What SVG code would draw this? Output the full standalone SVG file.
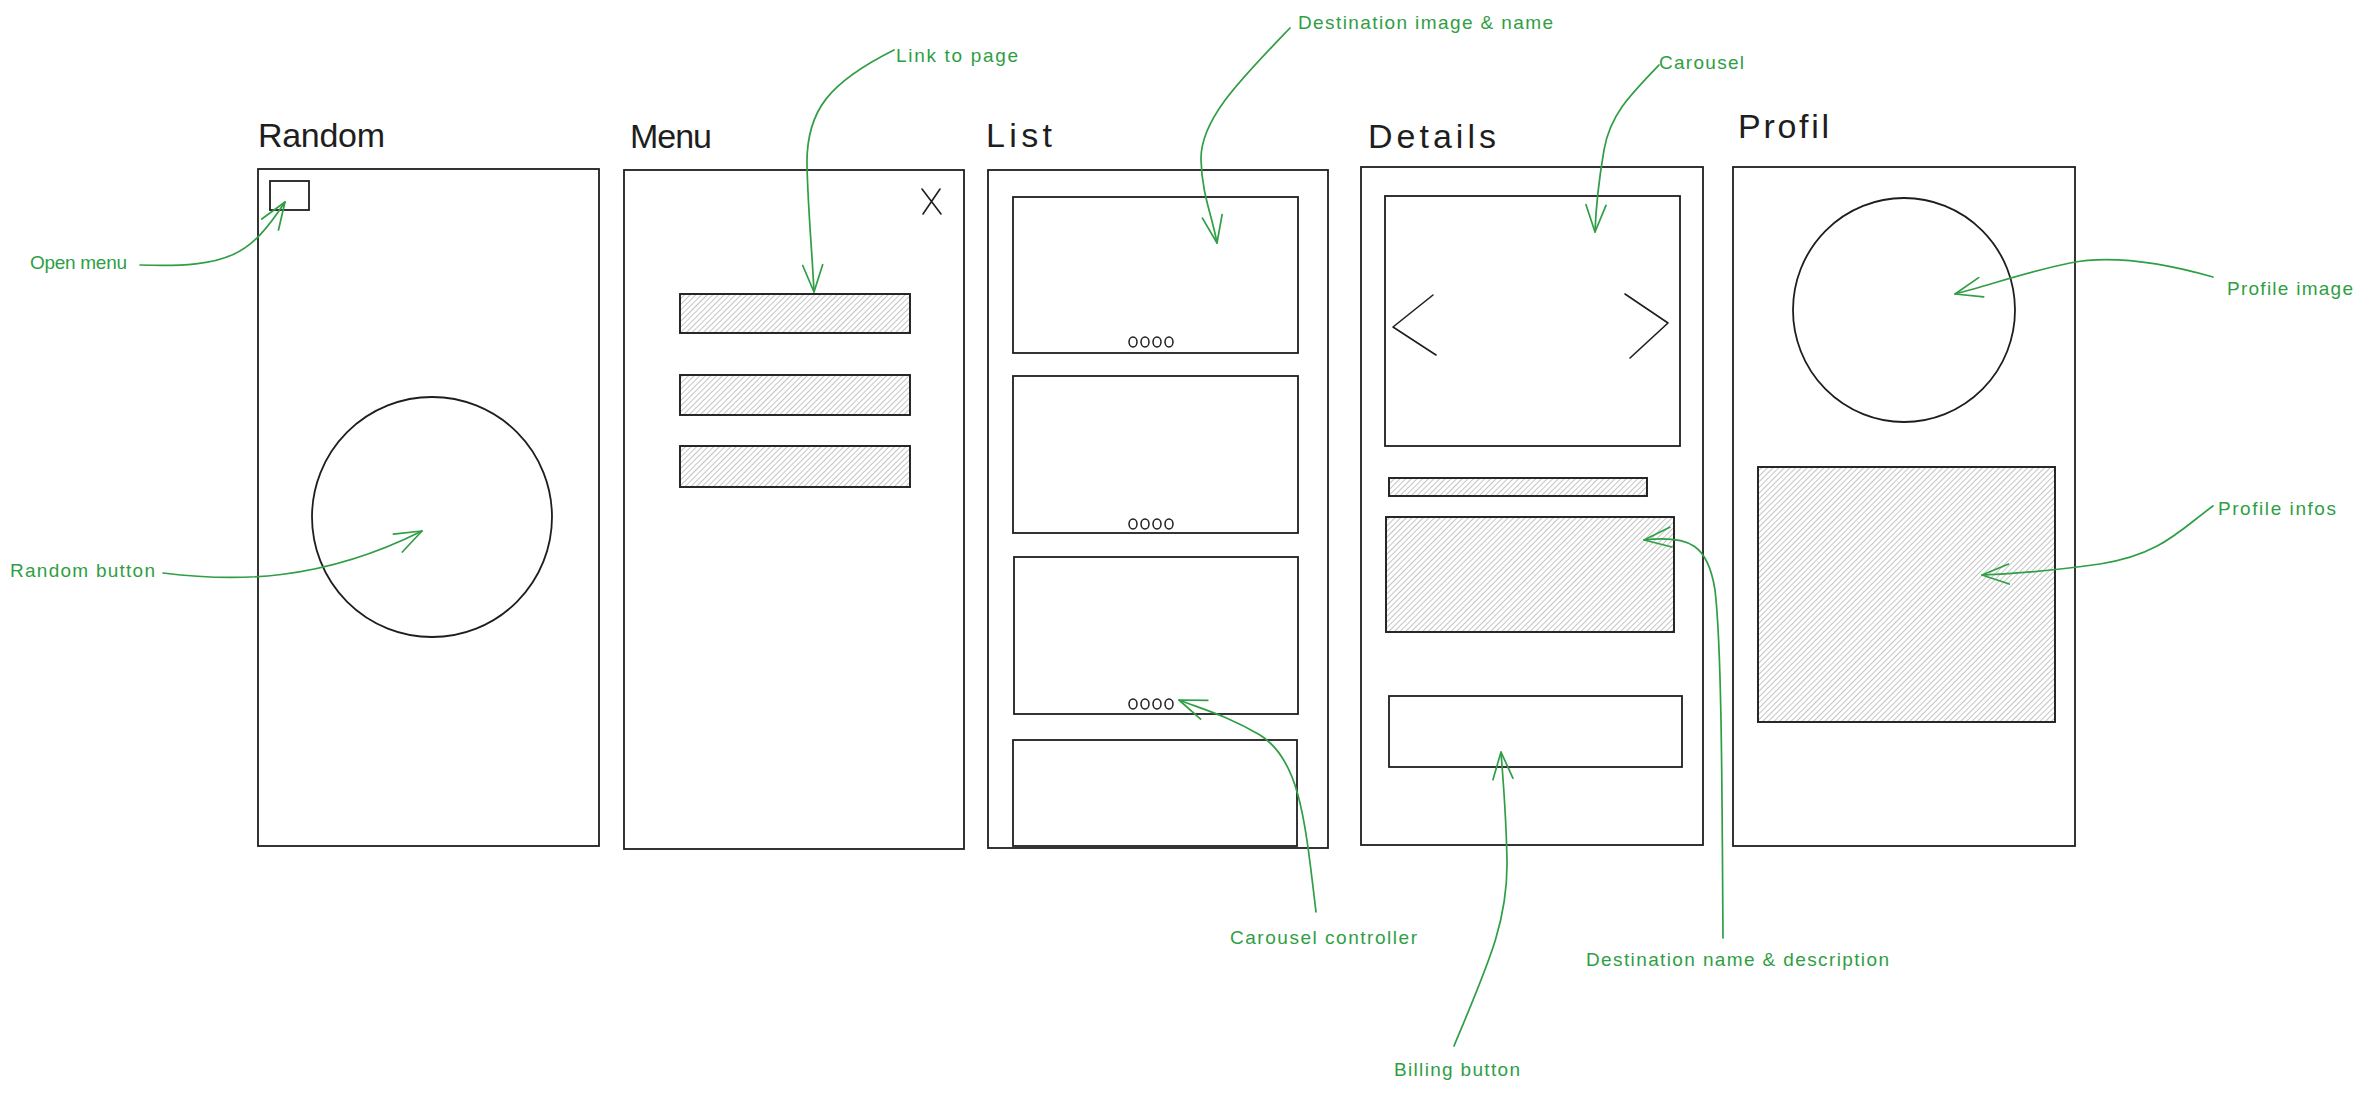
<svg xmlns="http://www.w3.org/2000/svg" width="2364" height="1094" viewBox="0 0 2364 1094">
<style>
.frame{fill:none;stroke:#1e1e1e;stroke-width:1.8}
.box{fill:none;stroke:#1e1e1e;stroke-width:1.8}
.hatch{fill:url(#hatch);stroke:#1e1e1e;stroke-width:1.9}
.line{fill:none;stroke:#1e1e1e;stroke-width:1.6;stroke-linecap:round;stroke-linejoin:round}
.dot{fill:none;stroke:#1e1e1e;stroke-width:1.5}
.title{font-family:"Liberation Sans",Arial,sans-serif;font-size:34px;fill:#1e1e1e}
.note{font-family:"Liberation Sans",Arial,sans-serif;font-size:19px;fill:#2f9e44}
.conn{fill:none;stroke:#2f9e44;stroke-width:1.7;stroke-linecap:round;marker-end:url(#head)}
</style>
<defs>
<pattern id="hatch" width="4" height="4" patternUnits="userSpaceOnUse" patternTransform="rotate(45)">
<rect width="4" height="4" fill="#ffffff"/>
<line x1="0" y1="0" x2="0" y2="4" stroke="#9c9c9c" stroke-width="1.2"/>
</pattern>
<marker id="head" markerUnits="userSpaceOnUse" markerWidth="34" markerHeight="30" viewBox="-30 -15 34 30" refX="0" refY="0" orient="auto" overflow="visible">
<path d="M-27,-10 L0,0 L-27,10" fill="none" stroke="#2f9e44" stroke-width="1.7" stroke-linecap="round" stroke-linejoin="round"/>
</marker>
</defs>
<rect width="2364" height="1094" fill="#ffffff"/>

<g id="random">
<text class="title" x="258" y="147" textLength="127">Random</text>
<rect class="frame" x="258" y="169" width="341" height="677"/>
<rect id="open-menu-btn" class="box" x="270" y="181" width="39" height="29"/>
<circle id="random-btn" class="box" cx="432" cy="517" r="120"/>
</g>

<g id="menu">
<text class="title" x="630" y="148" textLength="82">Menu</text>
<rect class="frame" x="624" y="170" width="340" height="679"/>
<path class="line" d="M922,189 L941,214 M940,189 L923,214"/>
<rect class="hatch" x="680" y="294" width="230" height="39"/>
<rect class="hatch" x="680" y="375" width="230" height="40"/>
<rect class="hatch" x="680" y="446" width="230" height="41"/>
</g>

<g id="list">
<text class="title" x="986" y="147" textLength="66">List</text>
<rect class="frame" x="988" y="170" width="340" height="678"/>
<rect class="box" x="1013" y="197" width="285" height="156"/>
<g class="dots">
<ellipse class="dot" cx="1133" cy="342" rx="4" ry="5"/><ellipse class="dot" cx="1145" cy="342" rx="4" ry="5"/><ellipse class="dot" cx="1157" cy="342" rx="4" ry="5"/><ellipse class="dot" cx="1169" cy="342" rx="4" ry="5"/>
</g>
<rect class="box" x="1013" y="376" width="285" height="157"/>
<g class="dots">
<ellipse class="dot" cx="1133" cy="524" rx="4" ry="5"/><ellipse class="dot" cx="1145" cy="524" rx="4" ry="5"/><ellipse class="dot" cx="1157" cy="524" rx="4" ry="5"/><ellipse class="dot" cx="1169" cy="524" rx="4" ry="5"/>
</g>
<rect class="box" x="1014" y="557" width="284" height="157"/>
<g class="dots">
<ellipse class="dot" cx="1133" cy="704" rx="4" ry="5"/><ellipse class="dot" cx="1145" cy="704" rx="4" ry="5"/><ellipse class="dot" cx="1157" cy="704" rx="4" ry="5"/><ellipse class="dot" cx="1169" cy="704" rx="4" ry="5"/>
</g>
<rect class="box" x="1013" y="740" width="284" height="106"/>
</g>

<g id="details">
<text class="title" x="1368" y="148" textLength="128">Details</text>
<rect class="frame" x="1361" y="167" width="342" height="678"/>
<rect class="box" x="1385" y="196" width="295" height="250"/>
<path class="line" d="M1433,295 L1393,327 L1436,355"/>
<path class="line" d="M1625,294 L1668,323 L1630,358"/>
<rect class="hatch" x="1389" y="478" width="258" height="18"/>
<rect class="hatch" x="1386" y="517" width="288" height="115"/>
<rect class="box" x="1389" y="696" width="293" height="71"/>
</g>

<g id="profil">
<text class="title" x="1738" y="138" textLength="91">Profil</text>
<rect class="frame" x="1733" y="167" width="342" height="679"/>
<ellipse class="box" cx="1904" cy="310" rx="111" ry="112"/>
<rect class="hatch" x="1758" y="467" width="297" height="255"/>
</g>

<g id="annotations">
<text class="note" x="30" y="269" textLength="97">Open menu</text>
<text class="note" x="10" y="577" textLength="145">Random button</text>
<text class="note" x="896" y="62" textLength="122">Link to page</text>
<text class="note" x="1298" y="29" textLength="255">Destination image &amp; name</text>
<text class="note" x="1659" y="69" textLength="85">Carousel</text>
<text class="note" x="1230" y="944" textLength="187">Carousel controller</text>
<text class="note" x="1586" y="966" textLength="303">Destination name &amp; description</text>
<text class="note" x="1394" y="1076" textLength="126">Billing button</text>
<text class="note" x="2227" y="295" textLength="126">Profile image</text>
<text class="note" x="2218" y="515" textLength="118">Profile infos</text>
</g>

<g id="connectors">
<path class="conn" d="M140,265 C230,268 250,255 285,202"/>
<path class="conn" d="M163,573 C235,582 320,582 422,531"/>
<path class="conn" d="M894,50 C830,82 806,110 807,165 C808,210 812,250 814,292"/>
<path class="conn" d="M1290,28 C1240,80 1200,120 1201,160 C1202,195 1212,215 1217,243"/>
<path class="conn" d="M1659,65 C1630,95 1610,115 1604,150 C1598,185 1596,205 1595,232"/>
<path class="conn" d="M1316,912 C1305,820 1300,760 1260,735 C1230,717 1205,710 1179,700"/>
<path class="conn" d="M1454,1046 C1490,960 1508,920 1507,860 C1506,810 1503,780 1501,752"/>
<path class="conn" d="M1723,938 C1722,800 1722,650 1715,590 C1708,545 1690,535 1644,540"/>
<path class="conn" d="M2213,277 C2160,262 2110,255 2070,263 C2030,271 1990,285 1955,294"/>
<path class="conn" d="M2213,506 C2180,530 2160,555 2100,564 C2050,571 2010,574 1982,575"/>
</g>
</svg>
